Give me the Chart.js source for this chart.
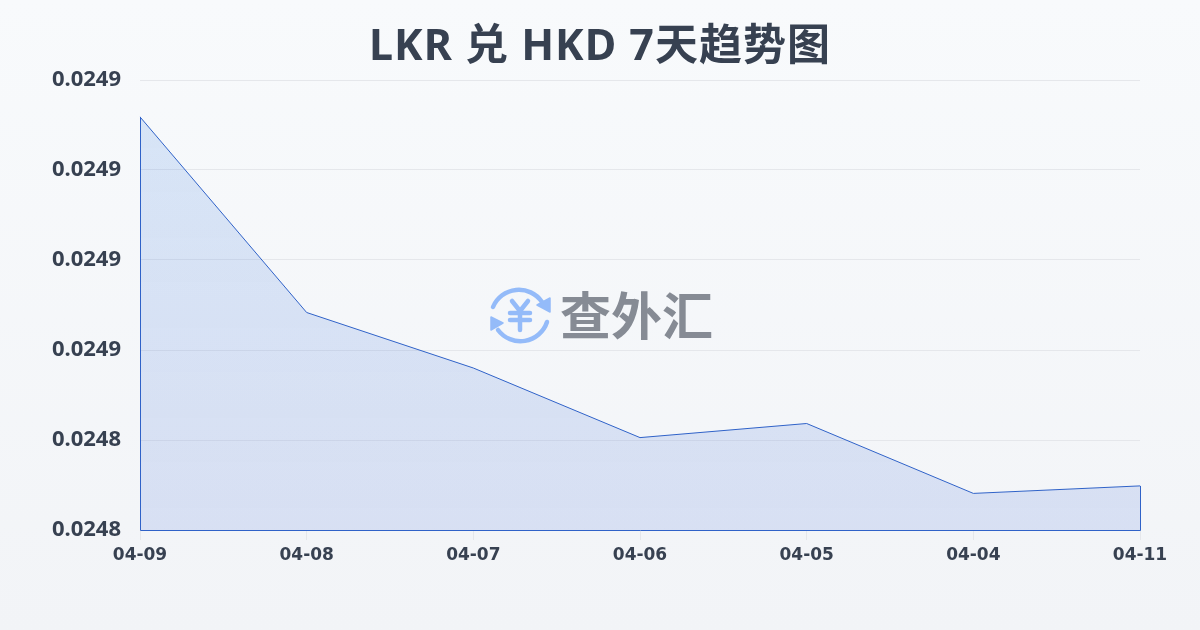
<!DOCTYPE html>
<html>
<head>
<meta charset="utf-8">
<script src="https://cdn.jsdelivr.net/npm/chart.js@4"></script>
<style>
  html, body { margin: 0; padding: 0; }
  body { width: 1200px; height: 630px; overflow: hidden; position: relative;
    background: linear-gradient(180deg, #f8fafc 0%, #f2f4f7 100%); }
  #wrap { position: absolute; left: 0; top: 0; width: 1200px; height: 630px; }
  #logo { position: absolute; left: 488px; top: 283px; width: 64px; height: 64px; }
  #brand { position: absolute; left: 560px; top: 277px; font: 700 51px/72px "Noto Sans CJK SC", sans-serif;
    color: #868b94; white-space: nowrap; }
</style>
</head>
<body>
<div id="wrap"><canvas id="chart" width="1200" height="630"></canvas></div>
<svg id="logo" viewBox="0 0 64 64" fill="none" stroke="#94bbf9" stroke-width="4.5" stroke-linecap="round" stroke-linejoin="round">
  <path d="M5 24 A28 28 0 0 1 54 19"/>
  <path d="M59 39 A28 28 0 0 1 10 47"/>
  <path d="M62 15 L62 29 L49 22 Z" fill="#94bbf9" stroke-width="1.5"/>
  <path d="M3 34 L3 47 L15 40 Z" fill="#94bbf9" stroke-width="1.5"/>
  <path d="M24 18 L32 28 L40 18 M22 30 L42 30 M22 37 L42 37 M32 28 L32 47" stroke-width="4.5"/>
</svg>
<div id="brand">查外汇</div>
<script>
const titleText = 'LKR 兑 HKD 7天趋势图'
const categories = ['04-09', '04-08', '04-07', '04-06', '04-05', '04-04', '04-11']
const rates = [0.0249327, 0.0248675, 0.024849, 0.0248258, 0.0248305, 0.0248072, 0.0248097]
const yMin = 0.024795
const yMax = 0.024945
const yTicks = [0.024795, 0.024825, 0.024855, 0.024885, 0.024915, 0.024945]

const lineColor = '#2f62c8'
const textColor = '#374151'

// closes the outline down the two sides and along the base of the area
const outlinePlugin = {
  id: 'outline',
  afterDatasetsDraw(chart) {
    const pts = chart.getDatasetMeta(0).data
    const base = chart.scales.y.bottom + 0.5
    const first = pts[0]
    const last = pts[pts.length - 1]
    const ctx = chart.ctx
    ctx.save()
    ctx.strokeStyle = lineColor
    ctx.lineWidth = 1
    ctx.beginPath()
    ctx.moveTo(first.x + 0.5, first.y)
    ctx.lineTo(first.x + 0.5, base)
    ctx.lineTo(last.x + 0.5, base)
    ctx.lineTo(last.x + 0.5, last.y)
    ctx.stroke()
    ctx.restore()
  },
}

// the title plugin has no letter spacing option, so wrap its draw call
const titleSpacingPlugin = {
  id: 'titleSpacing',
  beforeDraw(chart) {
    const block = chart.titleBlock
    if (block.spaced) return
    const draw = block.draw
    block.draw = function () {
      chart.ctx.letterSpacing = '1px'
      draw.call(block)
      chart.ctx.letterSpacing = '0px'
    }
    block.spaced = true
  },
}

new Chart(document.querySelector('#chart'), {
  type: 'line',
  plugins: [outlinePlugin, titleSpacingPlugin],
  data: {
    labels: categories,
    datasets: [{
      data: rates,
      borderColor: lineColor,
      borderWidth: 1,
      pointRadius: 0,
      tension: 0,
      fill: 'origin',
      backgroundColor(ctx) {
        const area = ctx.chart.chartArea
        if (!area) return 'rgba(37,99,235,0.15)'
        const g = ctx.chart.ctx.createLinearGradient(0, area.top, 0, area.bottom)
        g.addColorStop(0, 'rgba(59,130,230,0.17)')
        g.addColorStop(1, 'rgba(37,84,210,0.13)')
        return g
      },
    }],
  },
  options: {
    responsive: false,
    animation: false,
    plugins: {
      legend: { display: false },
      tooltip: { enabled: false },
      title: {
        display: true,
        text: titleText,
        color: textColor,
        font: { family: '"Noto Sans", "Noto Sans CJK SC", sans-serif', size: 43, weight: 'bold', lineHeight: 1 },
        padding: { top: 26, bottom: 11 },
      },
    },
    scales: {
      x: {
        grid: { drawOnChartArea: false, color: '#e5e7eb', tickLength: 10 },
        border: { display: false },
        ticks: {
          color: textColor,
          maxRotation: 0,
          autoSkip: false,
          padding: 5,
          font: { family: '"DejaVu Sans", sans-serif', size: 17, weight: 'bold' },
        },
        afterFit(scale) { scale.height = 100 },
      },
      y: {
        min: yMin,
        max: yMax,
        grid: { color: '#e5e7eb', drawTicks: false },
        border: { display: false },
        ticks: {
          color: textColor,
          padding: 19,
          font: { family: '"Noto Sans", sans-serif', size: 22, weight: 'bold' },
          callback: (v) => v.toFixed(4),
        },
        afterBuildTicks(scale) { scale.ticks = yTicks.map((value) => ({ value })) },
        afterFit(scale) { scale.width = 140 },
      },
      // empty right-hand axis, only keeps 60px free so the title stays centred on the page
      spacer: {
        position: 'right',
        display: true,
        grid: { display: false },
        border: { display: false },
        ticks: { display: false },
        afterFit(scale) { scale.width = 60 },
      },
    },
  },
})
</script>
</body>
</html>
